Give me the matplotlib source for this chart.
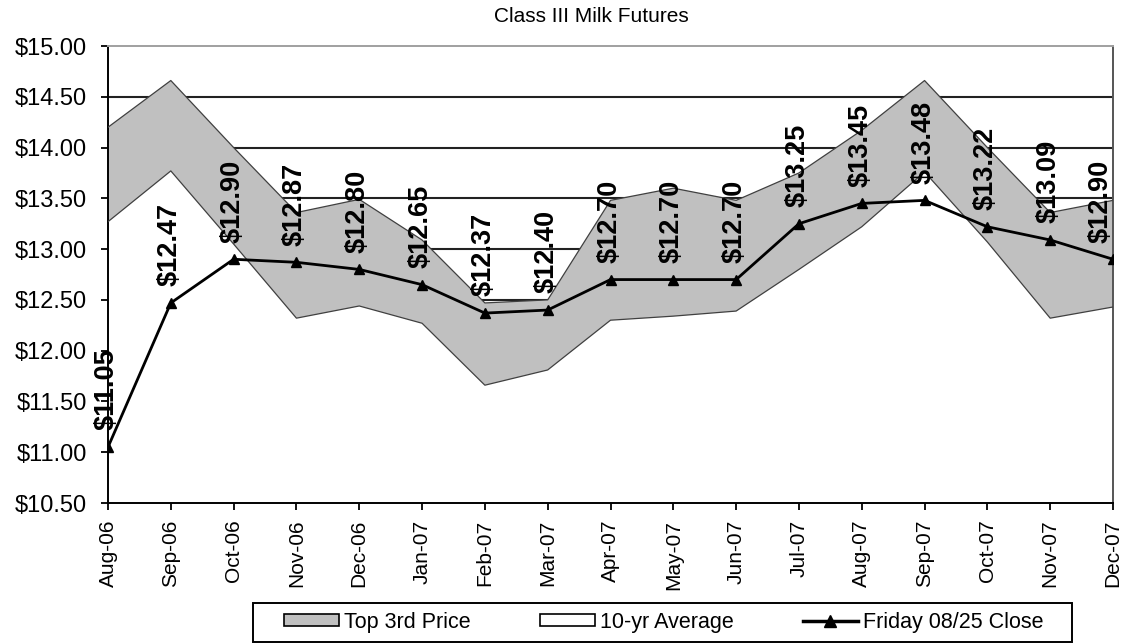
import matplotlib
matplotlib.use("Agg")
import matplotlib.pyplot as plt
from matplotlib.patches import Patch, Rectangle
from matplotlib.lines import Line2D

months = ["Aug-06", "Sep-06", "Oct-06", "Nov-06", "Dec-06", "Jan-07", "Feb-07", "Mar-07",
          "Apr-07", "May-07", "Jun-07", "Jul-07", "Aug-07", "Sep-07", "Oct-07", "Nov-07", "Dec-07"]
top_third = [14.20, 14.66, 14.00, 13.36, 13.49, 13.09, 12.47, 12.50,
             13.48, 13.60, 13.48, 13.75, 14.17, 14.66, 14.00, 13.36, 13.48]
ten_yr_avg = [13.27, 13.77, 13.05, 12.32, 12.44, 12.27, 11.66, 11.81,
              12.30, 12.34, 12.39, 12.80, 13.22, 13.76, 13.07, 12.32, 12.43]
friday_close = [11.05, 12.47, 12.90, 12.87, 12.80, 12.65, 12.37, 12.40,
                12.70, 12.70, 12.70, 13.25, 13.45, 13.48, 13.22, 13.09, 12.90]
y_ticks = [10.5, 11.0, 11.5, 12.0, 12.5, 13.0, 13.5, 14.0, 14.5, 15.0]

plt.rcParams['font.family'] = ['Liberation Sans', 'DejaVu Sans']

fig = plt.figure(figsize=(11.34, 6.44), dpi=100)
ax = fig.add_axes([108 / 1134, 1 - 503 / 644, (1113 - 108) / 1134, (503 - 46) / 644])

x = list(range(len(months)))

# gridlines sit behind the areas, like in excel
for v in y_ticks[1:-1]:
    ax.axhline(v, color="#222222", lw=1.5, zorder=1)

# white 10-yr average area hides the grid below it, gray band on top
ax.fill_between(x, 10.5, ten_yr_avg, facecolor="white", edgecolor="none", zorder=2)
ax.fill_between(x, ten_yr_avg, top_third, facecolor="#C0C0C0", edgecolor="none", zorder=2)
ax.plot(x, ten_yr_avg, color="#404040", lw=0.9, zorder=3)
ax.plot(x, top_third, color="#404040", lw=0.9, zorder=3)

ax.plot(x, friday_close, color="black", lw=2.0, marker="^", markersize=7.5, zorder=4)

for i, v in enumerate(friday_close):
    dx = -9 if i == len(friday_close) - 1 else -1  # excel pulls the last label inside
    ax.annotate("$%.2f" % v, (i, v), xytext=(dx, 12), textcoords="offset points",
                rotation=90, ha="center", va="bottom", fontsize=19.5, fontweight="bold",
                zorder=5, annotation_clip=False)

ax.set_xlim(0, len(months) - 1)
ax.set_ylim(10.5, 15.0)
ax.set_xticks(x)
ax.set_xticklabels(months, rotation=90, fontsize=15)
ax.set_yticks(y_ticks)
ax.set_yticklabels(["$%.2f" % v for v in y_ticks], fontsize=17)
ax.tick_params(axis="y", direction="out", length=5, width=1.3, color="black", pad=10)
ax.tick_params(axis="x", direction="out", length=5, width=1.3, color="black", pad=7)

ax.spines["left"].set_linewidth(1.4)
ax.spines["bottom"].set_linewidth(1.4)
ax.spines["top"].set_color("#A0A0A0")
ax.spines["top"].set_linewidth(1.4)
ax.spines["right"].set_color("#555555")
ax.spines["right"].set_linewidth(1.4)

fig.text(0.5216, 0.974, "Class III Milk Futures", ha="center", va="center", fontsize=15)

handles = [Patch(facecolor="#C0C0C0", edgecolor="black", lw=1.2),
           Patch(facecolor="white", edgecolor="black", lw=1.2),
           Line2D([0], [0], color="black", lw=2.5, marker="^", markersize=8)]
labels = ["Top 3rd Price", "10-yr Average", "Friday 08/25 Close"]
leg = fig.legend(handles, labels, loc="center", bbox_to_anchor=(0.5855, 0.0334), ncol=3,
                 fontsize=15.5, frameon=False, handlelength=2.55, handleheight=0.5,
                 handletextpad=0.25, columnspacing=3.2)

# legend border drawn by hand so it can be wider than the entries
fig.patches.append(Rectangle((253 / 1134, 1 - 642 / 644), 819 / 1134, 39 / 644,
                             transform=fig.transFigure, fill=False, edgecolor="black", lw=1.4))

fig.savefig("out.png", dpi=100)
